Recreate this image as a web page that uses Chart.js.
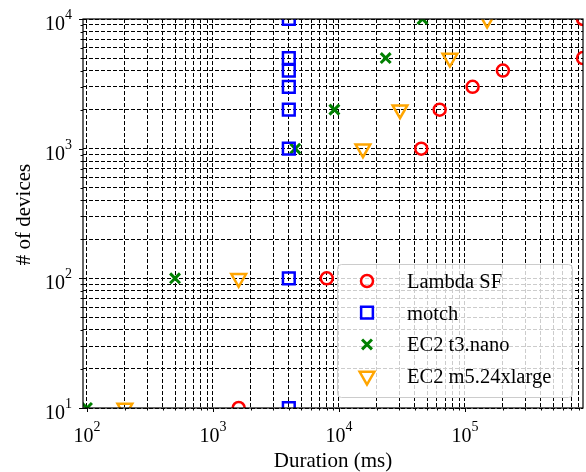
<!DOCTYPE html>
<html>
<head>
<meta charset="utf-8">
<script src="https://cdn.jsdelivr.net/npm/chart.js"></script>
<style>
  html, body { margin: 0; padding: 0; background: #fff; }
  canvas { display: block; }
</style>
</head>
<body>
<canvas id="myChart" width="586" height="472"></canvas>
<script>
// data (duration in ms vs number of devices)
const lambdaX = [1600, 8000, 45000, 63000, 115000, 200000, 865000, 865000];
const lambdaY = [10, 100, 1000, 2000, 3000, 4000, 5000, 10000];
const motchX = [4000, 4000, 4000, 4000, 4000, 4000, 4000, 4000];
const motchY = [10, 100, 1000, 2000, 3000, 4000, 5000, 10000];
const t3nanoX = [100, 500, 4500, 9200, 23500, 46000];
const t3nanoY = [10, 100, 1000, 2000, 5000, 10000];
const m5X = [200, 1600, 15500, 30500, 76000, 150000];
const m5Y = [10, 100, 1000, 2000, 5000, 10000];

const seriesLabels = ['Lambda SF', 'motch', 'EC2 t3.nano', 'EC2 m5.24xlarge'];

// axis limits and decades that get a "10^n" label
const xMin = 93, xMax = 865000;
const yMin = 10, yMax = 10000;
const xDecades = [2, 3, 4, 5];
const yDecades = [1, 2, 3, 4];

const FONT = '"Liberation Serif", "Times New Roman", serif';

// major + minor log ticks (1..9 x 10^n) inside the limits
function logTicks(lo, hi) {
  const out = [];
  for (let e = Math.floor(Math.log10(lo)); e <= Math.ceil(Math.log10(hi)); e++) {
    for (let m = 1; m <= 9; m++) {
      const v = m * Math.pow(10, e);
      if (v >= lo && v <= hi) out.push(v);
    }
  }
  return out;
}
const xTicks = logTicks(xMin, xMax);
const yTicks = logTicks(yMin, yMax);

function pts(xs, ys) {
  return xs.map((x, i) => ({ x: x, y: ys[i] }));
}

const styles = [
  { color: '#ff0000', style: 'circle', r: 6, rot: 0, w: 2.5 },
  { color: '#0000ff', style: 'rect', r: 8.3, rot: 0, w: 2.5 },
  { color: '#008000', style: 'crossRot', r: 7, rot: 0, w: 3 },
  { color: '#ffa500', style: 'triangle', r: 8.5, rot: 180, w: 2.5 }
];
const seriesData = [pts(lambdaX, lambdaY), pts(motchX, motchY), pts(t3nanoX, t3nanoY), pts(m5X, m5Y)];

const datasets = seriesData.map((d, i) => ({
  label: seriesLabels[i],
  data: d,
  pointStyle: styles[i].style,
  pointRadius: styles[i].r,
  pointRotation: styles[i].rot,
  pointBorderWidth: styles[i].w,
  borderColor: styles[i].color,
  backgroundColor: 'rgba(0,0,0,0)',
  showLine: false,
  clip: 0
}));

function drawMarker(ctx, s, x, y) {
  if (Chart.helpers && Chart.helpers.drawPoint) {
    ctx.save();
    ctx.strokeStyle = s.color;
    ctx.fillStyle = 'rgba(0,0,0,0)';
    ctx.lineWidth = s.w;
    Chart.helpers.drawPoint(ctx, { pointStyle: s.style, radius: s.r, rotation: s.rot, borderWidth: s.w }, x, y);
    ctx.restore();
  }
}

function drawPow(ctx, exp, x, y, align) {
  const big = '20px ' + FONT, small = '14px ' + FONT;
  ctx.font = big; const w1 = ctx.measureText('10').width;
  ctx.font = small; const w2 = ctx.measureText(String(exp)).width;
  const x0 = align === 'center' ? x - (w1 + w2) / 2 : x - (w1 + w2);
  ctx.textAlign = 'left';
  ctx.textBaseline = 'alphabetic';
  ctx.fillStyle = '#000';
  ctx.font = big; ctx.fillText('10', x0, y);
  ctx.font = small; ctx.fillText(String(exp), x0 + w1, y - 11);
}

const decor = {
  id: 'decor',
  afterDraw(chart) {
    const ctx = chart.ctx;
    const a = chart.chartArea;
    const xs = chart.scales.x, ys = chart.scales.y;

    // legend box
    const lw = 235, lh = 133;
    const lx = a.right - 11 - lw, ly = a.bottom - 11 - lh;
    ctx.save();
    ctx.beginPath();
    ctx.roundRect(lx + 0.5, ly + 0.5, lw, lh, 4);
    ctx.fillStyle = 'rgba(255,255,255,0.8)';
    ctx.fill();
    ctx.strokeStyle = '#cccccc';
    ctx.lineWidth = 1;
    ctx.stroke();
    seriesLabels.forEach((lab, i) => {
      const cy = ly + 17 + i * 31.7;
      drawMarker(ctx, styles[i], lx + 30, cy);
      ctx.fillStyle = '#000';
      ctx.font = '20.5px ' + FONT;
      ctx.textAlign = 'left';
      ctx.textBaseline = 'alphabetic';
      ctx.fillText(lab, lx + 70, cy + 7);
    });
    ctx.restore();

    // frame
    ctx.save();
    ctx.strokeStyle = '#000';
    ctx.lineWidth = 1.2;
    ctx.strokeRect(a.left, a.top, a.right - a.left, a.bottom - a.top);

    // tick marks, major longer than minor
    ctx.lineWidth = 1;
    ctx.beginPath();
    xTicks.forEach(v => {
      const px = Math.round(xs.getPixelForValue(v)) + 0.5;
      const len = Number.isInteger(Math.log10(v)) ? 4 : 2.5;
      ctx.moveTo(px, a.bottom); ctx.lineTo(px, a.bottom + len);
    });
    yTicks.forEach(v => {
      const py = Math.round(ys.getPixelForValue(v)) + 0.5;
      const len = Number.isInteger(Math.log10(v)) ? 4 : 2.5;
      ctx.moveTo(a.left, py); ctx.lineTo(a.left - len, py);
    });
    ctx.stroke();

    // tick labels
    xDecades.forEach(e => drawPow(ctx, e, xs.getPixelForValue(Math.pow(10, e)), 442, 'center'));
    yDecades.forEach(e => drawPow(ctx, e, 72, ys.getPixelForValue(Math.pow(10, e)) + 11, 'right'));

    // axis titles
    ctx.fillStyle = '#000';
    ctx.font = '21px ' + FONT;
    ctx.textAlign = 'center';
    ctx.textBaseline = 'alphabetic';
    ctx.fillText('Duration (ms)', (a.left + a.right) / 2, 467);
    ctx.translate(30, (a.top + a.bottom) / 2 + 1);
    ctx.rotate(-Math.PI / 2);
    ctx.fillText('# of devices', 0, 0);
    ctx.restore();
  }
};

const gridOpts = {
  color: '#000',
  lineWidth: 1,
  drawTicks: false
};
const borderOpts = { display: false, dash: [4, 2] };

const ctx = document.getElementById('myChart').getContext('2d');
const chart = new Chart(ctx, {
  type: 'scatter',
  data: { datasets: datasets },
  options: {
    responsive: false,
    animation: false,
    events: [],
    layout: { autoPadding: false, padding: { top: 19, right: 3, left: 0, bottom: 0 } },
    plugins: { legend: { display: false }, tooltip: { enabled: false } },
    scales: {
      x: {
        type: 'logarithmic',
        min: xMin,
        max: xMax,
        bounds: 'data',
        grid: gridOpts,
        border: borderOpts,
        ticks: { display: false },
        afterBuildTicks: (axis) => { axis.ticks = xTicks.map(v => ({ value: v })); },
        afterFit: (axis) => { axis.height = 64; }
      },
      y: {
        type: 'logarithmic',
        min: yMin,
        max: yMax,
        bounds: 'data',
        grid: gridOpts,
        border: borderOpts,
        ticks: { display: false },
        afterBuildTicks: (axis) => { axis.ticks = yTicks.map(v => ({ value: v })); },
        afterFit: (axis) => { axis.width = 83; }
      }
    }
  },
  plugins: [decor]
});
</script>
</body>
</html>
